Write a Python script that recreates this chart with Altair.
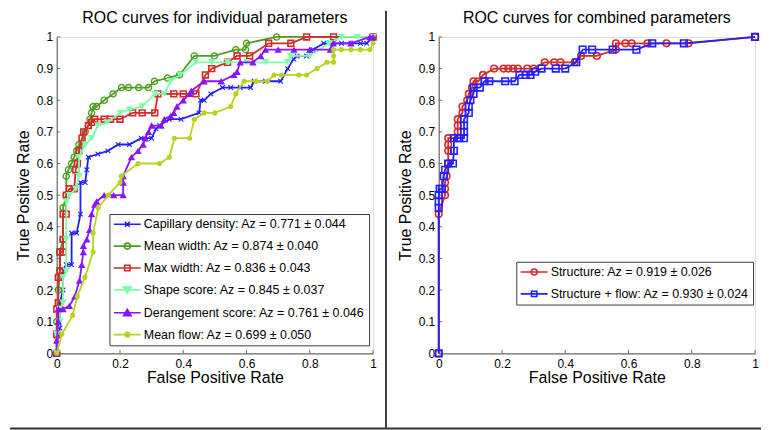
import altair as alt
import pandas as pd

FONT = "Liberation Sans"

# ---------------- left panel: individual parameters ----------------
cap_fpr = [0, 0, 0.01, 0.01, 0.02, 0.02, 0.03, 0.047, 0.047, 0.063, 0.075, 0.075, 0.09, 0.095, 0.1, 0.13, 0.162, 0.194, 0.23, 0.267, 0.3, 0.314, 0.325, 0.356, 0.393, 0.45, 0.455, 0.466, 0.487, 0.524, 0.55, 0.58, 0.613, 0.624, 0.66, 0.708, 0.73, 0.749, 0.76, 0.79, 0.81, 0.844, 0.874, 0.9, 0.93, 0.96, 0.98, 1]
cap_tpr = [0, 0.04, 0.08, 0.16, 0.2, 0.26, 0.28, 0.28, 0.38, 0.38, 0.44, 0.54, 0.54, 0.58, 0.62, 0.63, 0.64, 0.66, 0.66, 0.68, 0.68, 0.71, 0.72, 0.74, 0.74, 0.76, 0.8, 0.8, 0.82, 0.84, 0.84, 0.84, 0.84, 0.86, 0.86, 0.86, 0.9, 0.93, 0.94, 0.94, 0.96, 0.98, 0.98, 0.98, 0.98, 0.98, 0.98, 1]

mw_fpr = [0, 0, 0.005, 0.01, 0.01, 0.02, 0.02, 0.03, 0.03, 0.037, 0.047, 0.055, 0.063, 0.07, 0.079, 0.09, 0.1, 0.105, 0.11, 0.115, 0.126, 0.15, 0.178, 0.205, 0.227, 0.259, 0.29, 0.309, 0.35, 0.388, 0.435, 0.498, 0.566, 0.597, 0.6, 0.695, 1]
mw_tpr = [0, 0.1, 0.2, 0.26, 0.32, 0.36, 0.46, 0.5, 0.56, 0.58, 0.6, 0.62, 0.64, 0.66, 0.66, 0.7, 0.72, 0.74, 0.76, 0.78, 0.78, 0.8, 0.82, 0.84, 0.84, 0.84, 0.84, 0.86, 0.87, 0.88, 0.94, 0.94, 0.96, 0.96, 0.98, 1, 1]

xw_fpr = [0, 0, 0, 0.005, 0.005, 0.01, 0.01, 0.02, 0.02, 0.02, 0.03, 0.03, 0.04, 0.055, 0.06, 0.065, 0.07, 0.08, 0.085, 0.1, 0.11, 0.12, 0.15, 0.17, 0.2, 0.24, 0.27, 0.31, 0.32, 0.37, 0.4, 0.44, 0.47, 0.49, 0.54, 0.57, 0.61, 0.67, 0.74, 0.79, 0.875, 1]
xw_tpr = [0, 0.06, 0.14, 0.16, 0.24, 0.26, 0.32, 0.32, 0.36, 0.44, 0.44, 0.5, 0.52, 0.52, 0.58, 0.6, 0.64, 0.68, 0.7, 0.72, 0.73, 0.74, 0.74, 0.74, 0.74, 0.76, 0.76, 0.76, 0.82, 0.82, 0.82, 0.82, 0.88, 0.9, 0.92, 0.94, 0.94, 0.98, 0.98, 1, 1, 1]

ss_fpr = [0, 0, 0.01, 0.01, 0.02, 0.02, 0.03, 0.03, 0.03, 0.04, 0.06, 0.07, 0.07, 0.09, 0.11, 0.13, 0.16, 0.2, 0.23, 0.27, 0.31, 0.34, 0.36, 0.39, 0.44, 0.49, 0.54, 0.6, 0.66, 0.73, 0.74, 0.8, 0.86, 0.9, 0.95, 1]
ss_tpr = [0, 0.06, 0.1, 0.14, 0.16, 0.24, 0.26, 0.36, 0.48, 0.5, 0.52, 0.56, 0.62, 0.66, 0.68, 0.72, 0.73, 0.76, 0.77, 0.78, 0.82, 0.82, 0.86, 0.88, 0.92, 0.92, 0.92, 0.92, 0.92, 0.92, 0.94, 0.94, 0.98, 1, 1, 1]

ds_fpr = [0, 0, 0.005, 0.005, 0.02, 0.04, 0.057, 0.072, 0.079, 0.084, 0.084, 0.095, 0.104, 0.11, 0.12, 0.126, 0.15, 0.18, 0.21, 0.21, 0.21, 0.236, 0.257, 0.273, 0.28, 0.29, 0.3, 0.33, 0.34, 0.36, 0.37, 0.38, 0.4, 0.42, 0.425, 0.466, 0.52, 0.56, 0.57, 0.58, 0.62, 0.645, 0.66, 0.7, 0.75, 0.8, 0.865, 0.874, 0.93, 0.99, 1]
ds_tpr = [0, 0.04, 0.1, 0.14, 0.14, 0.15, 0.18, 0.23, 0.28, 0.32, 0.34, 0.36, 0.39, 0.44, 0.47, 0.48, 0.5, 0.5, 0.5, 0.54, 0.56, 0.62, 0.64, 0.66, 0.68, 0.7, 0.72, 0.72, 0.74, 0.75, 0.76, 0.78, 0.8, 0.82, 0.83, 0.86, 0.86, 0.88, 0.89, 0.92, 0.92, 0.94, 0.96, 0.96, 0.96, 0.96, 0.96, 0.98, 0.98, 1, 1]

mf_fpr = [0, 0.016, 0.05, 0.065, 0.089, 0.115, 0.115, 0.131, 0.163, 0.2, 0.204, 0.257, 0.325, 0.356, 0.372, 0.42, 0.435, 0.466, 0.5, 0.55, 0.566, 0.592, 0.63, 0.666, 0.687, 0.71, 0.765, 0.79, 0.823, 0.854, 0.875, 0.875, 0.875, 0.9, 0.93, 0.96, 0.99, 1]
mf_tpr = [0, 0.06, 0.12, 0.18, 0.24, 0.32, 0.38, 0.46, 0.5, 0.54, 0.56, 0.6, 0.6, 0.62, 0.68, 0.68, 0.74, 0.76, 0.76, 0.78, 0.82, 0.86, 0.86, 0.86, 0.88, 0.88, 0.88, 0.88, 0.9, 0.92, 0.92, 0.94, 0.96, 0.96, 0.96, 0.96, 0.96, 0.98]

left_labels = [
    "Capillary density: Az = 0.771 ± 0.044",
    "Mean width: Az = 0.874 ± 0.040",
    "Max width: Az = 0.836 ± 0.043",
    "Shape score: Az = 0.845 ± 0.037",
    "Derangement score: Az = 0.761 ± 0.046",
    "Mean flow: Az = 0.699 ± 0.050",
]
left_title = "ROC curves for individual parameters"

# ---------------- right panel: combined parameters ----------------
st_fpr = [0, 0, 0.02, 0.02, 0.02, 0.025, 0.03, 0.03, 0.03, 0.03, 0.06, 0.06, 0.06, 0.06, 0.075, 0.075, 0.09, 0.095, 0.105, 0.11, 0.125, 0.14, 0.175, 0.205, 0.22, 0.235, 0.25, 0.28, 0.3, 0.335, 0.365, 0.385, 0.43, 0.45, 0.5, 0.56, 0.56, 0.59, 0.61, 0.66, 0.72, 0.79, 1]
st_tpr = [0, 0.44, 0.5, 0.52, 0.54, 0.56, 0.6, 0.64, 0.66, 0.68, 0.68, 0.7, 0.72, 0.74, 0.76, 0.78, 0.8, 0.82, 0.84, 0.86, 0.86, 0.88, 0.9, 0.9, 0.9, 0.9, 0.9, 0.9, 0.9, 0.92, 0.92, 0.92, 0.92, 0.94, 0.94, 0.96, 0.98, 0.98, 0.98, 0.98, 0.98, 0.98, 1]

sf_fpr = [0, 0, 0, 0, 0.003, 0.01, 0.016, 0.02, 0.03, 0.045, 0.048, 0.048, 0.065, 0.08, 0.08, 0.08, 0.08, 0.095, 0.095, 0.1, 0.11, 0.11, 0.13, 0.145, 0.16, 0.21, 0.24, 0.255, 0.275, 0.29, 0.305, 0.325, 0.37, 0.4, 0.435, 0.455, 0.485, 0.55, 0.625, 0.675, 0.775, 1]
sf_tpr = [0, 0.46, 0.48, 0.5, 0.52, 0.52, 0.56, 0.58, 0.6, 0.6, 0.64, 0.68, 0.68, 0.68, 0.7, 0.72, 0.74, 0.76, 0.78, 0.8, 0.82, 0.84, 0.84, 0.86, 0.86, 0.86, 0.86, 0.88, 0.88, 0.88, 0.89, 0.9, 0.9, 0.9, 0.92, 0.96, 0.96, 0.96, 0.96, 0.98, 0.98, 1]

right_labels = [
    "Structure: Az = 0.919 ± 0.026",
    "Structure + flow: Az = 0.930 ± 0.024",
]
right_title = "ROC curves for combined parameters"

x_ticks = [0, 0.2, 0.4, 0.6, 0.8, 1]
y_ticks = [0, 0.1, 0.2, 0.3, 0.4, 0.5, 0.6, 0.7, 0.8, 0.9, 1]

# ---------------- styles ----------------
BLUE = "#2020ff"
GREEN = "#4e9e22"
RED = "#d42a2a"
MINT = "#7dffac"
PURPLE = "#8a14ff"
OLIVE = "#b6d31e"
AXC = "#6e6e6e"
W = 318
H = 318
GAP = 66

P_X = "M-1,-1L1,1M-1,1L1,-1"
# legend glyphs: a line segment with the marker in its middle
L_X = "M-1.16,0L4.24,0M1.04,-0.5L2.04,0.5M1.04,0.5L2.04,-0.5"
L_CIRC = "M-1.16,0L4.24,0M2.14,0A0.6,0.6 0 1,1 0.94,0A0.6,0.6 0 1,1 2.14,0"
L_SQ = "M-1.16,0L4.24,0M1.0,-0.54L2.08,-0.54L2.08,0.54L1.0,0.54Z"
L_TDN = "M-1.16,0L4.24,0M0.78,-0.6L2.3,-0.6L1.54,0.7Z"
L_TUP = "M-1.16,0L4.24,0M0.78,0.6L2.3,0.6L1.54,-0.7Z"
L_DOT = "M-1.16,0L4.24,0M2.0,0A0.46,0.46 0 1,1 1.08,0A0.46,0.46 0 1,1 2.0,0"

XS = alt.Scale(domain=[0, 1], nice=False, zero=False)
YS = alt.Scale(domain=[0, 1], nice=False, zero=False)

XAX = alt.Axis(values=x_ticks, format="~g", title="False Positive Rate", grid=False,
               tickSize=0, labelPadding=5, titlePadding=0, labelFlush=False, labelOverlap=False,
               domainColor=AXC, domainWidth=1.2, labelFont=FONT, labelFontSize=12,
               labelColor="black", titleFont=FONT, titleFontSize=16,
               titleFontWeight="normal", titleColor="black")
YAX = alt.Axis(values=y_ticks, format="~g", title="True Positive Rate", grid=False,
               tickSize=0, labelPadding=4, titlePadding=5, labelFlush=False, labelOverlap=False,
               domainColor=AXC, domainWidth=1.2, labelFont=FONT, labelFontSize=12,
               labelColor="black", titleFont=FONT, titleFontSize=16,
               titleFontWeight="normal", titleColor="black")


def series(fpr, tpr, color, shape, filled, size, sw):
    df = pd.DataFrame({"fpr": fpr, "tpr": tpr, "i": list(range(len(fpr)))})
    base = alt.Chart(df).encode(
        x=alt.X("fpr:Q", scale=XS, axis=XAX),
        y=alt.Y("tpr:Q", scale=YS, axis=YAX),
        order=alt.Order("i:Q"),
    )
    line = base.mark_line(color=color, strokeWidth=1.8)
    pts = base.mark_point(shape=shape, filled=filled, color=color, size=size,
                          strokeWidth=sw, opacity=1)
    return [line, pts]


def inward_ticks():
    ydf = pd.DataFrame({"tpr": y_ticks})
    xdf = pd.DataFrame({"fpr": x_ticks})
    yt = alt.Chart(ydf).mark_rule(color=AXC, strokeWidth=1).encode(
        y=alt.Y("tpr:Q", scale=YS, axis=YAX),
        x=alt.XDatum(0, scale=XS, axis=XAX),
        x2=alt.X2Datum(0.011),
    )
    xt = alt.Chart(xdf).mark_rule(color=AXC, strokeWidth=1).encode(
        x=alt.X("fpr:Q", scale=XS, axis=XAX),
        y=alt.YDatum(0, scale=YS, axis=YAX),
        y2=alt.Y2Datum(0.011),
    )
    return [yt, xt]


def legend_layer(field, labels, strokes, fills, paths, lx, ly):
    leg = alt.Legend(title=None, orient="none", legendX=lx, legendY=ly,
                     labelFont=FONT, labelFontSize=12.5, labelColor="black", labelLimit=0,
                     symbolSize=100, symbolStrokeWidth=1.6, symbolOpacity=1,
                     strokeColor="#3a3a3a", fillColor="white", padding=4,
                     rowPadding=9, labelOffset=18)
    df = pd.DataFrame({field: labels})
    return alt.Chart(df).transform_filter("false").mark_point(opacity=1).encode(
        stroke=alt.Stroke(f"{field}:N", scale=alt.Scale(domain=labels, range=strokes), legend=leg),
        fill=alt.Fill(f"{field}:N", scale=alt.Scale(domain=labels, range=fills), legend=leg),
        shape=alt.Shape(f"{field}:N", scale=alt.Scale(domain=labels, range=paths), legend=leg),
    )


def title_layer(text):
    return alt.Chart(frame_df).mark_text(
        text=text, font=FONT, fontSize=16, color="black", align="center", baseline="middle"
    ).encode(x=alt.value(W / 2), y=alt.value(-19))


frame_df = pd.DataFrame({"k": [0]})

left_layers = inward_ticks()
left_layers += series(cap_fpr, cap_tpr, BLUE, P_X, False, 22, 1.1)
left_layers += series(mw_fpr, mw_tpr, GREEN, "circle", False, 38, 1.4)
left_layers += series(xw_fpr, xw_tpr, RED, "square", False, 34, 1.6)
left_layers += series(ss_fpr, ss_tpr, MINT, "triangle-down", True, 55, 1.0)
left_layers += series(ds_fpr, ds_tpr, PURPLE, "triangle-up", True, 55, 1.0)
left_layers += series(mf_fpr, mf_tpr, OLIVE, "circle", True, 26, 1.0)
left_layers.append(legend_layer(
    "label_left", left_labels,
    [BLUE, GREEN, RED, MINT, PURPLE, OLIVE],
    ["transparent", "transparent", "transparent", MINT, PURPLE, OLIVE],
    [L_X, L_CIRC, L_SQ, L_TDN, L_TUP, L_DOT], 53, 178))
left_layers.append(title_layer(left_title))
# figure frame: divider between the panels and bottom edge
left_layers.append(alt.Chart(frame_df).mark_rule(color="black", strokeWidth=1.5).encode(
    x=alt.value(331), y=alt.value(-26), y2=alt.value(394)))
left_layers.append(alt.Chart(frame_df).mark_rule(color="#333333", strokeWidth=2).encode(
    x=alt.value(-47), x2=alt.value(708), y=alt.value(393.5)))

left = alt.layer(*left_layers).properties(width=W, height=H)

right_layers = inward_ticks()
right_layers += series(st_fpr, st_tpr, RED, "circle", False, 44, 1.6)
right_layers += series(sf_fpr, sf_tpr, BLUE, "square", False, 44, 1.6)
right_layers.append(legend_layer(
    "label_right", right_labels, [RED, BLUE], ["transparent", "transparent"],
    [L_CIRC, L_SQ], 78, 226))
right_layers.append(title_layer(right_title))

right = alt.layer(*right_layers).properties(width=W, height=H)

chart = alt.hconcat(left, right, spacing=GAP, bounds="flush",
                    padding={"left": 0, "top": 0, "right": 0, "bottom": 0}).resolve_scale(
    stroke="independent", fill="independent", shape="independent"
).configure_view(stroke=None).configure(background="white", font=FONT)

chart.save("out.html", embed_options={"renderer": "svg", "actions": False})
